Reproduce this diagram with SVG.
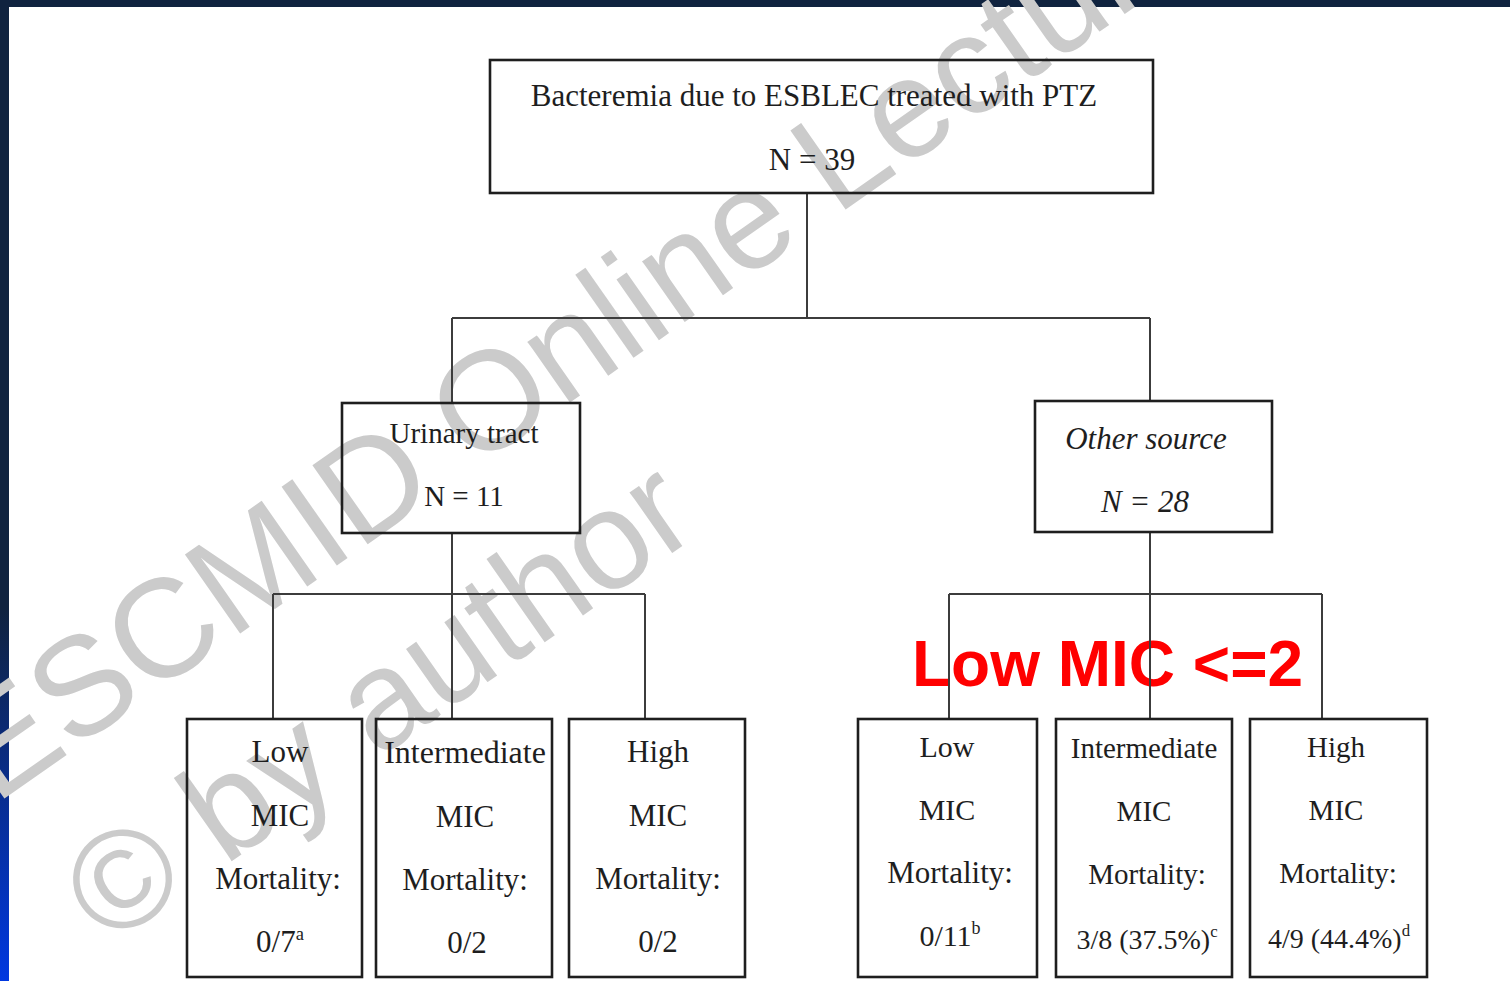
<svg xmlns="http://www.w3.org/2000/svg" width="1510" height="981" viewBox="0 0 1510 981">
  <defs>
    <linearGradient id="sideGrad" x1="0" y1="0" x2="0" y2="1">
      <stop offset="0" stop-color="#10233f"/>
      <stop offset="0.62" stop-color="#10233f"/>
      <stop offset="1" stop-color="#0038e0"/>
    </linearGradient>
  </defs>
  <style>
    .box { fill: none; stroke: #1e1e1e; stroke-width: 2.6; }
    .conn { fill: none; stroke: #3c3c3c; stroke-width: 2; }
    .t { font-family: "Liberation Serif", "Times New Roman", serif; fill: #1e1e1e; text-anchor: middle; }
    .it { font-style: italic; }
    .wm { font-family: "Liberation Sans", Arial, sans-serif; fill: #cbcbcb; font-size: 140px; }
    .red { font-family: "Liberation Sans", Arial, sans-serif; font-weight: bold; fill: #ff0000; font-size: 64px; }
    .sup { font-size: 60%; }
  </style>

  <rect x="0" y="0" width="1510" height="981" fill="#ffffff"/>
  <rect x="0" y="0" width="1510" height="7" fill="#10233f"/>
  <rect x="0" y="0" width="9" height="981" fill="url(#sideGrad)"/>

  <g id="watermark">
    <text class="wm" transform="translate(-5,805) rotate(-35)">ESCMID Online Lecture</text>
    <text class="wm" transform="translate(108,948) rotate(-35)">© by author</text>
  </g>

  <text id="note" class="red" x="912" y="686">Low MIC &lt;=2</text>

  <g id="connectors">
    <path class="conn" d="M807 193 V318 M452 318 H1150 M452 318 V403 M1150 318 V401"/>
    <path class="conn" d="M452 533 V719 M273 594 H645 M273 594 V719 M645 594 V719"/>
    <path class="conn" d="M1150 532 V719 M949 594 H1322 M949 594 V719 M1322 594 V719"/>
  </g>

  <g id="root">
    <rect class="box" x="490" y="60" width="663" height="133"/>
    <text class="t" x="814" y="106" font-size="31">Bacteremia due to ESBLEC treated with PTZ</text>
    <text class="t" x="812" y="170" font-size="31">N = 39</text>
  </g>

  <g id="urinary">
    <rect class="box" x="342" y="403" width="238" height="130"/>
    <text class="t" x="464" y="443" font-size="29">Urinary tract</text>
    <text class="t" x="464" y="506" font-size="29">N = 11</text>
  </g>

  <g id="other">
    <rect class="box" x="1035" y="401" width="237" height="131"/>
    <text class="t it" x="1146" y="449" font-size="31">Other source</text>
    <text class="t it" x="1145" y="512" font-size="31">N = 28</text>
  </g>

  <g id="u-low">
    <rect class="box" x="187" y="719" width="175" height="258"/>
    <text class="t" x="280" y="762" font-size="31">Low</text>
    <text class="t" x="280" y="826" font-size="31">MIC</text>
    <text class="t" x="278" y="889" font-size="31">Mortality:</text>
    <text class="t" x="280" y="952" font-size="31">0/7<tspan class="sup" dy="-12">a</tspan></text>
  </g>

  <g id="u-int">
    <rect class="box" x="376" y="719" width="176" height="258"/>
    <text class="t" x="465" y="763" font-size="32">Intermediate</text>
    <text class="t" x="465" y="827" font-size="31">MIC</text>
    <text class="t" x="465" y="890" font-size="31">Mortality:</text>
    <text class="t" x="467" y="953" font-size="31">0/2</text>
  </g>

  <g id="u-high">
    <rect class="box" x="569" y="719" width="176" height="258"/>
    <text class="t" x="658" y="762" font-size="31">High</text>
    <text class="t" x="658" y="826" font-size="31">MIC</text>
    <text class="t" x="658" y="889" font-size="31">Mortality:</text>
    <text class="t" x="658" y="952" font-size="31">0/2</text>
  </g>

  <g id="o-low">
    <rect class="box" x="858" y="719" width="179" height="258"/>
    <text class="t" x="947" y="757" font-size="30">Low</text>
    <text class="t" x="947" y="820" font-size="30">MIC</text>
    <text class="t" x="950" y="883" font-size="31">Mortality:</text>
    <text class="t" x="950" y="946" font-size="30">0/11<tspan class="sup" dy="-12">b</tspan></text>
  </g>

  <g id="o-int">
    <rect class="box" x="1056" y="719" width="176" height="258"/>
    <text class="t" x="1144" y="758" font-size="29">Intermediate</text>
    <text class="t" x="1144" y="821" font-size="29">MIC</text>
    <text class="t" x="1147" y="884" font-size="29">Mortality:</text>
    <text class="t" x="1147" y="949" font-size="28">3/8 (37.5%)<tspan class="sup" dy="-12">c</tspan></text>
  </g>

  <g id="o-high">
    <rect class="box" x="1250" y="719" width="177" height="258"/>
    <text class="t" x="1336" y="757" font-size="29">High</text>
    <text class="t" x="1336" y="820" font-size="29">MIC</text>
    <text class="t" x="1338" y="883" font-size="29">Mortality:</text>
    <text class="t" x="1339" y="948" font-size="28">4/9 (44.4%)<tspan class="sup" dy="-12">d</tspan></text>
  </g>
</svg>
